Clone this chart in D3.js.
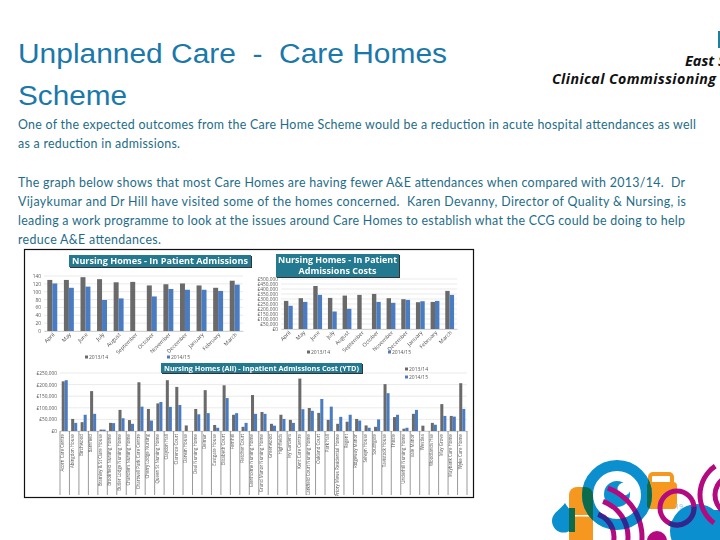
<!DOCTYPE html>
<html>
<head>
<meta charset="utf-8">
<script src="https://cdn.jsdelivr.net/npm/d3@7"></script>
<style>
  html, body { margin: 0; padding: 0; background: #fff; }
  svg { display: block; }
  .body-text { font-family: Lato, sans-serif; font-size: 12.4px; fill: #1e6c88; }
  .tick text { font-family: "Open Sans", sans-serif; fill: #555; }
  .banner-text { font-family: "Open Sans", sans-serif; font-weight: 700; fill: #fff; }
  .legend-text { font-family: "Open Sans", sans-serif; font-size: 5px; fill: #555; }
</style>
</head>
<body>
<svg id="slide" width="720" height="540"></svg>
<script>
const titleLines = ['Unplanned Care  -  Care Homes', 'Scheme'];
const titleWidths = [429, 109];
const bodyLines = [
  'One of the expected outcomes from the Care Home Scheme would be a reduction in acute hospital attendances as well',
  'as a reduction in admissions.',
  'The graph below shows that most Care Homes are having fewer A&E attendances when compared with 2013/14.  Dr',
  'Vijaykumar and Dr Hill have visited some of the homes concerned.  Karen Devanny, Director of Quality & Nursing, is',
  'leading a work programme to look at the issues around Care Homes to establish what the CCG could be doing to help',
  'reduce A&E attendances.'
];
const bodyY = [129, 148, 187, 206, 225, 244];
const bodyWidths = [678, 162, 667, 668, 667, 143];

const months = ['April', 'May', 'June', 'July', 'August', 'September', 'October', 'November', 'December', 'January', 'February', 'March'];
const admissions1314 = [130, 130, 137, 132, 124, 125, 116, 119, 121, 116, 110, 128];
const admissions1415 = [121, 110, 113, 79, 83, 0, 88, 107, 105, 105, 102, 118];
const costs1314 = [281, 308, 430, 311, 334, 341, 351, 308, 298, 268, 271, 381];
const costs1415 = [232, 271, 341, 175, 202, 0, 271, 262, 291, 278, 281, 341];

const homes = ['Acorn Care Centre', 'Abingdon House', 'Birchwood', 'Barnfield', 'Bramley & St Clare House', 'Brookfield Nursing Home',
  'Butler Lodge Nursing Home', 'Chandlers Nursing Home', 'Chartwell Park Care Centre', 'Cherry Lodge Nursing', 'Queen St Nursing Home',
  'Claydon Hall', 'Clarence Court', 'Darwin House', 'Deal Nursing Home', 'Delmar', 'Eastgate House', 'Elizabeth Court', 'Fernhill',
  'Fletcher Court', 'Glenholme Nursing Home', 'Grand Manor Nursing Home', 'Greenwood', 'Highfields', 'Ivy Gardens', 'Kent Care Centre',
  'Larkfield Court Nursing Home', 'Oakland Court', 'Park Hall', 'Priory Mews Residential Home', 'Regent', 'Ridgeway Manor', 'Selwyn House',
  'Southgate', 'Tavistock House', 'Thistle', 'Underhill Nursing Home', 'Vale Manor', 'Westlea', 'Woodlands Hse', 'May Grove',
  'Maybank Care Home', 'Wyke Care Home'];
const homes1314 = [214, 52, 38, 172, 6, 35, 91, 47, 210, 95, 119, 219, 190, 24, 95, 176, 26, 197, 70, 18, 155, 82, 31, 70, 48, 226, 99, 78, 48, 31, 40, 52, 24, 18, 202, 60, 10, 74, 23, 35, 116, 65, 206];
const homes1415 = [219, 35, 70, 74, 6, 34, 55, 31, 105, 45, 125, 104, 112, 0, 72, 77, 14, 142, 77, 35, 74, 74, 23, 52, 35, 94, 87, 138, 105, 61, 70, 45, 14, 50, 163, 70, 14, 91, 0, 27, 65, 62, 95];

const seriesNames = ['2013/14', '2014/15'];
const seriesColors = ['#6a6a6a', '#4a7cc2'];

const svg = d3.select('#slide');

// Slide heading and text
svg.selectAll('.title-line')
  .data(titleLines)
  .enter()
  .append('text')
  .attr('x', 18)
  .attr('y', (d, i) => 63 + i * 42)
  .attr('font-family', '"Liberation Sans", Arial, sans-serif')
  .attr('font-size', 27)
  .attr('fill', '#1a78ab')
  .attr('textLength', (d, i) => titleWidths[i])
  .attr('lengthAdjust', 'spacingAndGlyphs')
  .attr('xml:space', 'preserve')
  .text(d => d);

svg.selectAll('.body-text')
  .data(bodyLines)
  .enter()
  .append('text')
  .attr('class', 'body-text')
  .attr('x', 18)
  .attr('y', (d, i) => bodyY[i])
  .attr('textLength', (d, i) => bodyWidths[i])
  .attr('xml:space', 'preserve')
  .text(d => d);

// Cropped logo at the top right
const logo = svg.append('g')
  .attr('font-family', '"Open Sans", sans-serif')
  .attr('font-weight', 700)
  .attr('font-style', 'italic')
  .attr('fill', '#111');
logo.append('rect').attr('x', 718).attr('y', 31).attr('width', 2).attr('height', 17).attr('fill', '#1f7f9c');
logo.append('text').attr('x', 685).attr('y', 66).attr('font-size', 14.5).text('East S');
logo.append('text').attr('x', 552).attr('y', 84).attr('font-size', 14.2).attr('textLength', 164).text('Clinical Commissioning');

// Decoration in the bottom right corner
const deco = svg.append('g');
const blue = '#0b8fcf', orange = '#f6971f', magenta = '#b30a80', green = '#0b6b4b', navy = '#2c2a8e';
const defs = svg.append('defs');
const ringPath = d3.arc()({ innerRadius: 24, outerRadius: 35, startAngle: 0, endAngle: 2 * Math.PI });
defs.append('clipPath').attr('id', 'ring-clip')
  .append('path')
  .attr('clip-rule', 'evenodd')
  .attr('d', ringPath)
  .attr('transform', 'translate(617,495)');

function drawOrange(g, color) {
  g.append('rect').attr('x', 569).attr('y', 487).attr('width', 24).attr('height', 60).attr('rx', 8).attr('fill', color);
  g.append('rect').attr('x', 647).attr('y', 482).attr('width', 30).attr('height', 27).attr('rx', 4).attr('fill', color);
  g.append('rect').attr('x', 650).attr('y', 474).attr('width', 22).attr('height', 14).attr('rx', 3)
    .attr('fill', 'none').attr('stroke', color).attr('stroke-width', 4);
}

drawOrange(deco, orange);
deco.append('rect').attr('x', 569).attr('y', 515).attr('width', 24).attr('height', 1.5).attr('fill', '#fff');
deco.append('path').attr('d', 'M565,503 C560,510 552,513 552,521 A11.5,11.5 0 0 0 575,521 C575,513 569,510 565,503 Z').attr('fill', blue);
deco.append('rect').attr('x', 569).attr('y', 508).attr('width', 6).attr('height', 24).attr('fill', green);
deco.append('circle').attr('cx', 617).attr('cy', 495).attr('r', 29.5).attr('fill', 'none').attr('stroke', blue).attr('stroke-width', 11);
drawOrange(deco.append('g').attr('clip-path', 'url(#ring-clip)'), green);
deco.append('circle').attr('cx', 617).attr('cy', 494).attr('r', 13).attr('fill', blue);
deco.append('circle').attr('cx', 624).attr('cy', 489).attr('r', 6.5).attr('fill', '#fff');
deco.append('circle').attr('cx', 697).attr('cy', 531).attr('r', 27).attr('fill', blue);
deco.append('rect').attr('x', 697).attr('y', 510).attr('width', 23).attr('height', 30).attr('fill', blue);
deco.append('circle').attr('cx', 657).attr('cy', 541).attr('r', 10).attr('fill', magenta);

const arcGen = d3.arc();
const arcsG = deco.append('g');
const arcsNavy = deco.append('g').attr('clip-path', 'url(#ring-clip)');
[24, 38, 52].forEach(r => {
  const d = arcGen({ innerRadius: r - 2.5, outerRadius: r + 2.5, startAngle: 0.35, endAngle: 2.1 });
  arcsG.append('path').attr('transform', 'translate(590,537)').attr('d', d).attr('fill', magenta);
  arcsNavy.append('path').attr('transform', 'translate(590,537)').attr('d', d).attr('fill', navy);
});
[20, 35].forEach(r => {
  deco.append('path')
    .attr('transform', 'translate(735,495)')
    .attr('d', arcGen({ innerRadius: r - 2.5, outerRadius: r + 2.5, startAngle: -2.5, endAngle: -0.6 }))
    .attr('fill', magenta);
});
deco.append('circle').attr('cx', 677).attr('cy', 508).attr('r', 17).attr('fill', 'none').attr('stroke', magenta).attr('stroke-width', 5);
deco.append('path').attr('transform', 'translate(677,508)')
  .attr('d', arcGen({ innerRadius: 14.5, outerRadius: 19.5, startAngle: 1.5, endAngle: 3.6 }))
  .attr('fill', navy);
svg.append('text').attr('x', 675).attr('y', 509).attr('font-size', 7).attr('font-family', '"Open Sans", sans-serif').attr('fill', '#7cc6ea').text('19');

// Pasted picture with the three charts
const picture = svg.append('g');
picture.append('rect')
  .attr('x', 24.5).attr('y', 249.5).attr('width', 449).attr('height', 248)
  .attr('fill', '#fff').attr('stroke', '#111').attr('stroke-width', 1.2);

const soft = defs.append('filter').attr('id', 'soft');
soft.append('feGaussianBlur').attr('stdDeviation', 0.3);
const chartLayer = picture.append('g').attr('filter', 'url(#soft)');

function drawBars(opts) {
  const x = d3.scaleBand().domain(opts.categories).range([opts.left, opts.right]).paddingInner(opts.gap).paddingOuter(opts.gap / 2);
  const y = d3.scaleLinear().domain([0, opts.max]).range([opts.bottom, opts.top]);
  const inner = d3.scaleBand().domain([0, 1]).range([0, x.bandwidth()]);
  const g = chartLayer.append('g');

  g.append('g')
    .selectAll('line')
    .data(y.ticks(opts.tickCount))
    .enter()
    .append('line')
    .attr('x1', opts.left).attr('x2', opts.right)
    .attr('y1', d => y(d)).attr('y2', d => y(d))
    .attr('stroke', '#dcdcdc').attr('stroke-width', 0.6);

  [opts.values[0], opts.values[1]].forEach((values, s) => {
    g.append('g')
      .selectAll('rect')
      .data(values)
      .enter()
      .append('rect')
      .attr('x', (d, i) => x(opts.categories[i]) + inner(s))
      .attr('y', d => y(d))
      .attr('width', inner.bandwidth())
      .attr('height', d => opts.bottom - y(d))
      .attr('fill', seriesColors[s]);
  });

  const yAxis = d3.axisLeft(y).ticks(opts.tickCount).tickSize(0).tickPadding(3).tickFormat(opts.format);
  const yG = g.append('g').attr('transform', `translate(${opts.left},0)`).call(yAxis);
  yG.select('.domain').remove();
  yG.selectAll('text').attr('font-size', opts.yFont);

  const xAxis = d3.axisBottom(x).tickSize(0).tickPadding(2);
  const xG = g.append('g').attr('transform', `translate(0,${opts.bottom})`).call(xAxis);
  xG.select('.domain').attr('stroke', '#bbb').attr('stroke-width', 0.6);
  xG.selectAll('text')
    .attr('font-size', opts.xFont)
    .attr('text-anchor', 'end')
    .attr('transform', `rotate(${opts.xAngle})`)
    .attr('x', opts.xAngle === -90 ? -3 : -1)
    .attr('y', opts.xAngle === -90 ? -2 : 3)
    .attr('dy', '0.3em');
  return { g, x };
}

function drawBanner(x0, y0, w, h, lines, widths, size) {
  const b = picture.append('g');
  b.append('rect').attr('x', x0 + 1).attr('y', y0 + 1).attr('width', w).attr('height', h).attr('fill', '#333');
  b.append('rect').attr('x', x0).attr('y', y0).attr('width', w).attr('height', h).attr('fill', '#23798f');
  b.selectAll('text')
    .data(lines)
    .enter()
    .append('text')
    .attr('class', 'banner-text')
    .attr('x', x0 + w / 2)
    .attr('y', (d, i) => y0 + (h / lines.length) * (i + 0.5) + size * 0.35)
    .attr('text-anchor', 'middle')
    .attr('font-size', size)
    .attr('textLength', (d, i) => widths[i])
    .attr('lengthAdjust', 'spacingAndGlyphs')
    .text(d => d);
}

function drawLegend(items) {
  items.forEach((item, i) => {
    chartLayer.append('rect').attr('x', item[0]).attr('y', item[1] - 3.5).attr('width', 3).attr('height', 3).attr('fill', seriesColors[i]);
    chartLayer.append('text').attr('class', 'legend-text').attr('x', item[0] + 4).attr('y', item[1]).text(seriesNames[i]);
  });
}

const pounds = d => (d === 0 ? '£0' : '£' + d3.format(',')(d * 1000));

drawBars({
  categories: months, values: [admissions1314, admissions1415],
  left: 44, right: 243, top: 276, bottom: 331, max: 140, tickCount: 7,
  gap: 0.4, yFont: 4.8, xFont: 5.4, xAngle: -45, format: d3.format('d')
});
drawBars({
  categories: months, values: [costs1314, costs1415],
  left: 281, right: 457, top: 279, bottom: 329, max: 500, tickCount: 10,
  gap: 0.4, yFont: 4.8, xFont: 5.4, xAngle: -45, format: pounds
});
const homesChart = drawBars({
  categories: homes, values: [homes1314, homes1415],
  left: 60, right: 467, top: 373, bottom: 431, max: 250, tickCount: 5,
  gap: 0.36, yFont: 4.8, xFont: 4.4, xAngle: -90, format: pounds
});

// Separators between the home names
homesChart.g.append('g')
  .selectAll('line')
  .data(homes.concat(['end']))
  .enter()
  .append('line')
  .attr('x1', (d, i) => 60 + i * homesChart.x.step())
  .attr('x2', (d, i) => 60 + i * homesChart.x.step())
  .attr('y1', 431)
  .attr('y2', 495)
  .attr('stroke', '#808080')
  .attr('stroke-width', 0.8);

drawBanner(69, 255, 182, 12, ['Nursing Homes - In Patient Admissions'], [176], 8.5);
drawBanner(276, 254, 123, 23, ['Nursing Homes - In Patient', 'Admissions Costs'], [119, 78], 8.5);
drawBanner(161, 363, 201, 10, ['Nursing Homes (All) - Inpatient Admissions Cost (YTD)'], [195], 7.6);

drawLegend([[85, 359], [167, 359]]);
drawLegend([[307, 354], [388, 354]]);
drawLegend([[405, 371], [405, 379]]);
</script>
</body>
</html>
